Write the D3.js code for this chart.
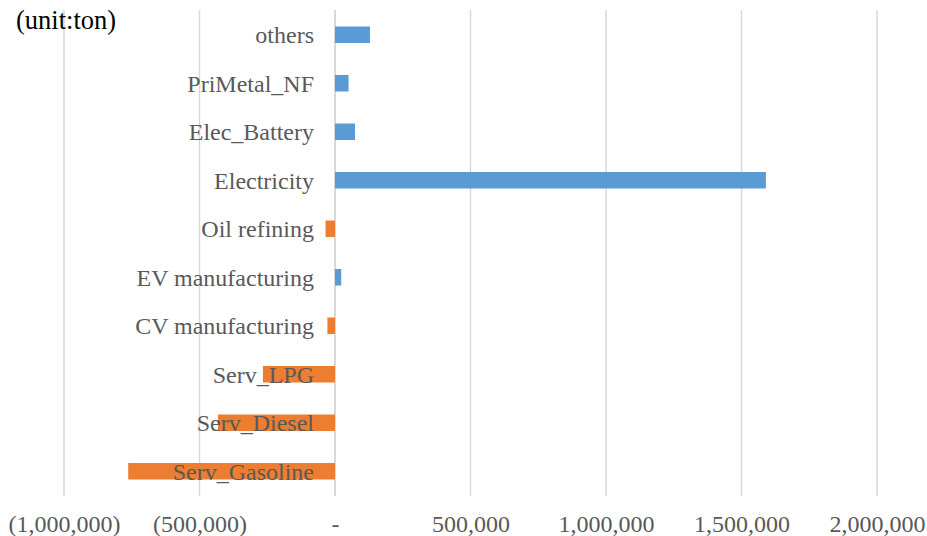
<!DOCTYPE html>
<html>
<head>
<meta charset="utf-8">
<script src="https://cdn.jsdelivr.net/npm/d3@7"></script>
<style>
  body { margin: 0; background: #fff; }
  svg { display: block; }
</style>
</head>
<body>
<div id="chart"></div>
<script>
// categories, top to bottom
const categories = ['others', 'PriMetal_NF', 'Elec_Battery', 'Electricity', 'Oil refining',
  'EV manufacturing', 'CV manufacturing', 'Serv_LPG', 'Serv_Diesel', 'Serv_Gasoline'];
// emission change (ton)
const values = [129000, 50000, 74000, 1590000, -35000, 23000, -28000, -266000, -432000, -763000];
const tickValues = [-1000000, -500000, 0, 500000, 1000000, 1500000, 2000000];
const tickLabels = ['(1,000,000)', '(500,000)', '-', '500,000', '1,000,000', '1,500,000', '2,000,000'];

const width = 927;
const height = 536;
const serif = "'Times New Roman', 'Liberation Serif', 'DejaVu Serif', serif";

const svg = d3.select('#chart')
  .append('svg')
  .attr('width', width)
  .attr('height', height);

// scales
const x = d3.scaleLinear()
  .domain([-1000000, 2000000])
  .range([64, 877]);

const y = d3.scaleBand()
  .domain(categories)
  .range([10.5, 495.5]);

const barH = y.bandwidth() * 0.34;

// gridlines
svg.append('g')
  .selectAll('line')
  .data(tickValues)
  .enter()
  .append('line')
  .attr('x1', d => x(d))
  .attr('x2', d => x(d))
  .attr('y1', 10)
  .attr('y2', 496)
  .attr('stroke', '#d9d9d9')
  .attr('stroke-width', d => d === 0 ? 2 : 1.5);

// bars
svg.append('g')
  .selectAll('rect')
  .data(categories)
  .enter()
  .append('rect')
  .attr('x', (d, i) => x(Math.min(0, values[i])))
  .attr('y', d => y(d) + y.bandwidth() / 2 - barH / 2)
  .attr('width', (d, i) => Math.abs(x(values[i]) - x(0)))
  .attr('height', barH)
  .attr('fill', (d, i) => values[i] >= 0 ? '#5b9bd5' : '#ed7d31');

// category axis at zero
const axisY = d3.axisLeft(y).tickSize(0).tickPadding(21);
const gy = svg.append('g')
  .attr('transform', `translate(${x(0)}, 1)`)
  .call(axisY);
gy.select('.domain').remove();
gy.attr('font-family', serif).attr('font-size', 24);
gy.selectAll('text').attr('fill', '#595959');

// value axis
const axisX = d3.axisBottom(x)
  .tickValues(tickValues)
  .tickFormat((d, i) => tickLabels[i])
  .tickSize(0)
  .tickPadding(0);
const gx = svg.append('g')
  .attr('transform', 'translate(0, 515)')
  .call(axisX);
gx.select('.domain').remove();
gx.attr('font-family', serif).attr('font-size', 24);
gx.selectAll('text').attr('fill', '#595959');

// unit note
svg.append('text')
  .attr('x', 16)
  .attr('y', 29)
  .attr('font-family', serif)
  .attr('font-size', 26.5)
  .attr('fill', '#000')
  .text('(unit:ton)');
</script>
</body>
</html>
